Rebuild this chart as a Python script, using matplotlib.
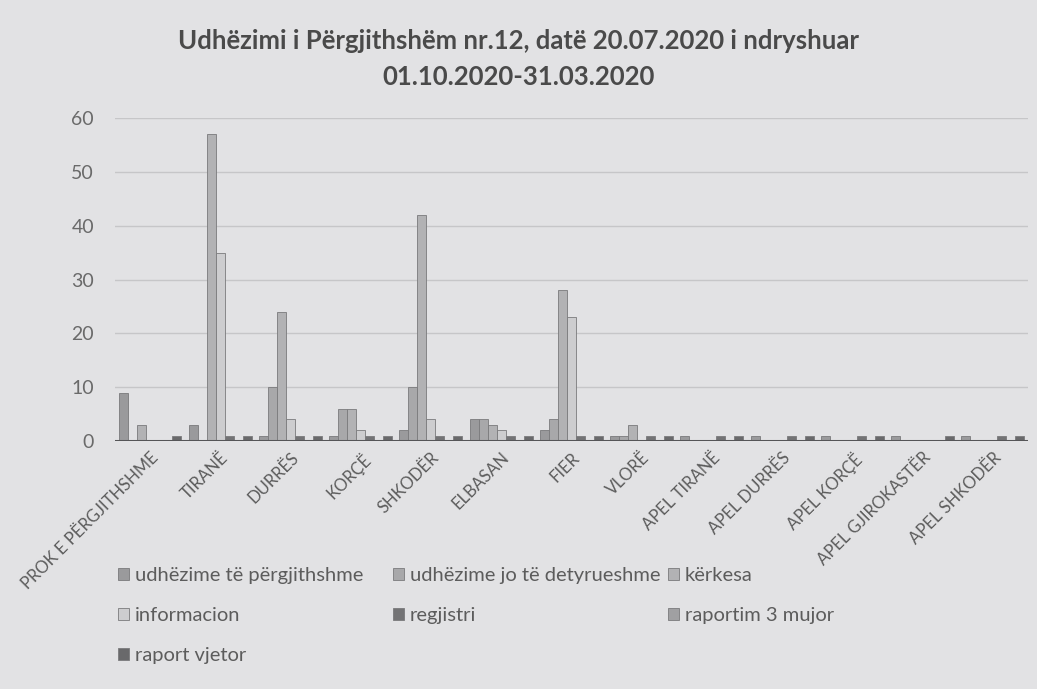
import numpy as np
import matplotlib.pyplot as plt
from matplotlib.patches import Patch

categories = ['PROK E PËRGJITHSHME', 'TIRANË', 'DURRËS', 'KORÇË', 'SHKODËR',
              'ELBASAN', 'FIER', 'VLORË', 'APEL TIRANË', 'APEL DURRËS',
              'APEL KORÇË', 'APEL GJIROKASTËR', 'APEL SHKODËR']

series_names = ['udhëzime të përgjithshme', 'udhëzime jo të detyrueshme', 'kërkesa',
                'informacion', 'regjistri', 'raportim 3 mujor', 'raport vjetor']

udhezime_pergj = [9, 3, 1, 1, 2, 4, 2, 1, 1, 1, 1, 1, 1]
udhezime_jo = [0, 0, 10, 6, 10, 4, 4, 1, 0, 0, 0, 0, 0]
kerkesa = [3, 57, 24, 6, 42, 3, 28, 3, 0, 0, 0, 0, 0]
informacion = [0, 35, 4, 2, 4, 2, 23, 0, 0, 0, 0, 0, 0]
regjistri = [0, 1, 1, 1, 1, 1, 1, 1, 1, 1, 1, 0, 1]
raportim_3_mujor = [0, 0, 0, 0, 0, 0, 0, 0, 0, 0, 0, 0, 0]
raport_vjetor = [1, 1, 1, 1, 1, 1, 1, 1, 1, 1, 1, 1, 1]

values = [udhezime_pergj, udhezime_jo, kerkesa, informacion,
          regjistri, raportim_3_mujor, raport_vjetor]
colors = ['#9a9a9c', '#a8a8aa', '#b2b2b4', '#cdcdcf', '#737375', '#a0a0a2', '#69696b']

bg = '#e2e2e4'
txt = '#5c5c5c'
plt.rcParams['font.family'] = ['Lato', 'DejaVu Sans']

fig = plt.figure(figsize=(10.37, 6.89), dpi=100, facecolor=bg)
ax = fig.add_axes([0.1108, 0.3599, 0.8805, 0.4688])
ax.set_facecolor('none')

x = np.arange(len(categories))
w = 0.128
for k, (vals, c) in enumerate(zip(values, colors)):
    ax.bar(x + (k - 3) * w, vals, width=w, color=c, edgecolor='#7a7a7c',
           linewidth=0.6, zorder=3)

ax.set_xlim(-0.5, len(categories) - 0.5)
ax.set_ylim(0, 60)
ax.set_yticks(range(0, 61, 10))
ax.yaxis.grid(True, color='#c6c6c8', linewidth=1.0, zorder=0)
ax.axhline(0, color='#555557', linewidth=2.2, zorder=4)
for s in ax.spines.values():
    s.set_visible(False)
ax.tick_params(axis='y', length=0, pad=15, labelsize=14, labelcolor='#6a6a6a')
ax.tick_params(axis='x', length=0, pad=6)
ax.set_xticks(x)
ax.set_xticklabels(categories, rotation=45, ha='right', va='top',
                   rotation_mode='anchor', fontsize=12, color=txt)

fig.text(0.5, 0.914, 'Udhëzimi i Përgjithshëm nr.12, datë 20.07.2020 i ndryshuar\n01.10.2020-31.03.2020',
         ha='center', va='center', fontsize=18.5, fontweight='bold', color='#4a4a4a',
         linespacing=1.6)

# legend laid out in Excel's row order, one legend per column
handles = [Patch(facecolor=c, edgecolor='#7a7a7c', linewidth=0.6) for c in colors]
cols = [[0, 3, 6], [1, 4], [2, 5]]
col_x = [118, 393, 668]
for idx, cx in zip(cols, col_x):
    leg = fig.legend([handles[i] for i in idx], [series_names[i] for i in idx],
                     loc='upper left', bbox_to_anchor=(cx / 1037, 1 - 567 / 689),
                     frameon=False, fontsize=14.5, handlelength=0.55, handleheight=0.55,
                     handletextpad=0.3, labelspacing=1.15, borderpad=0, borderaxespad=0)
    for t in leg.get_texts():
        t.set_color(txt)

fig.savefig('out.png', dpi=100, facecolor=bg)
